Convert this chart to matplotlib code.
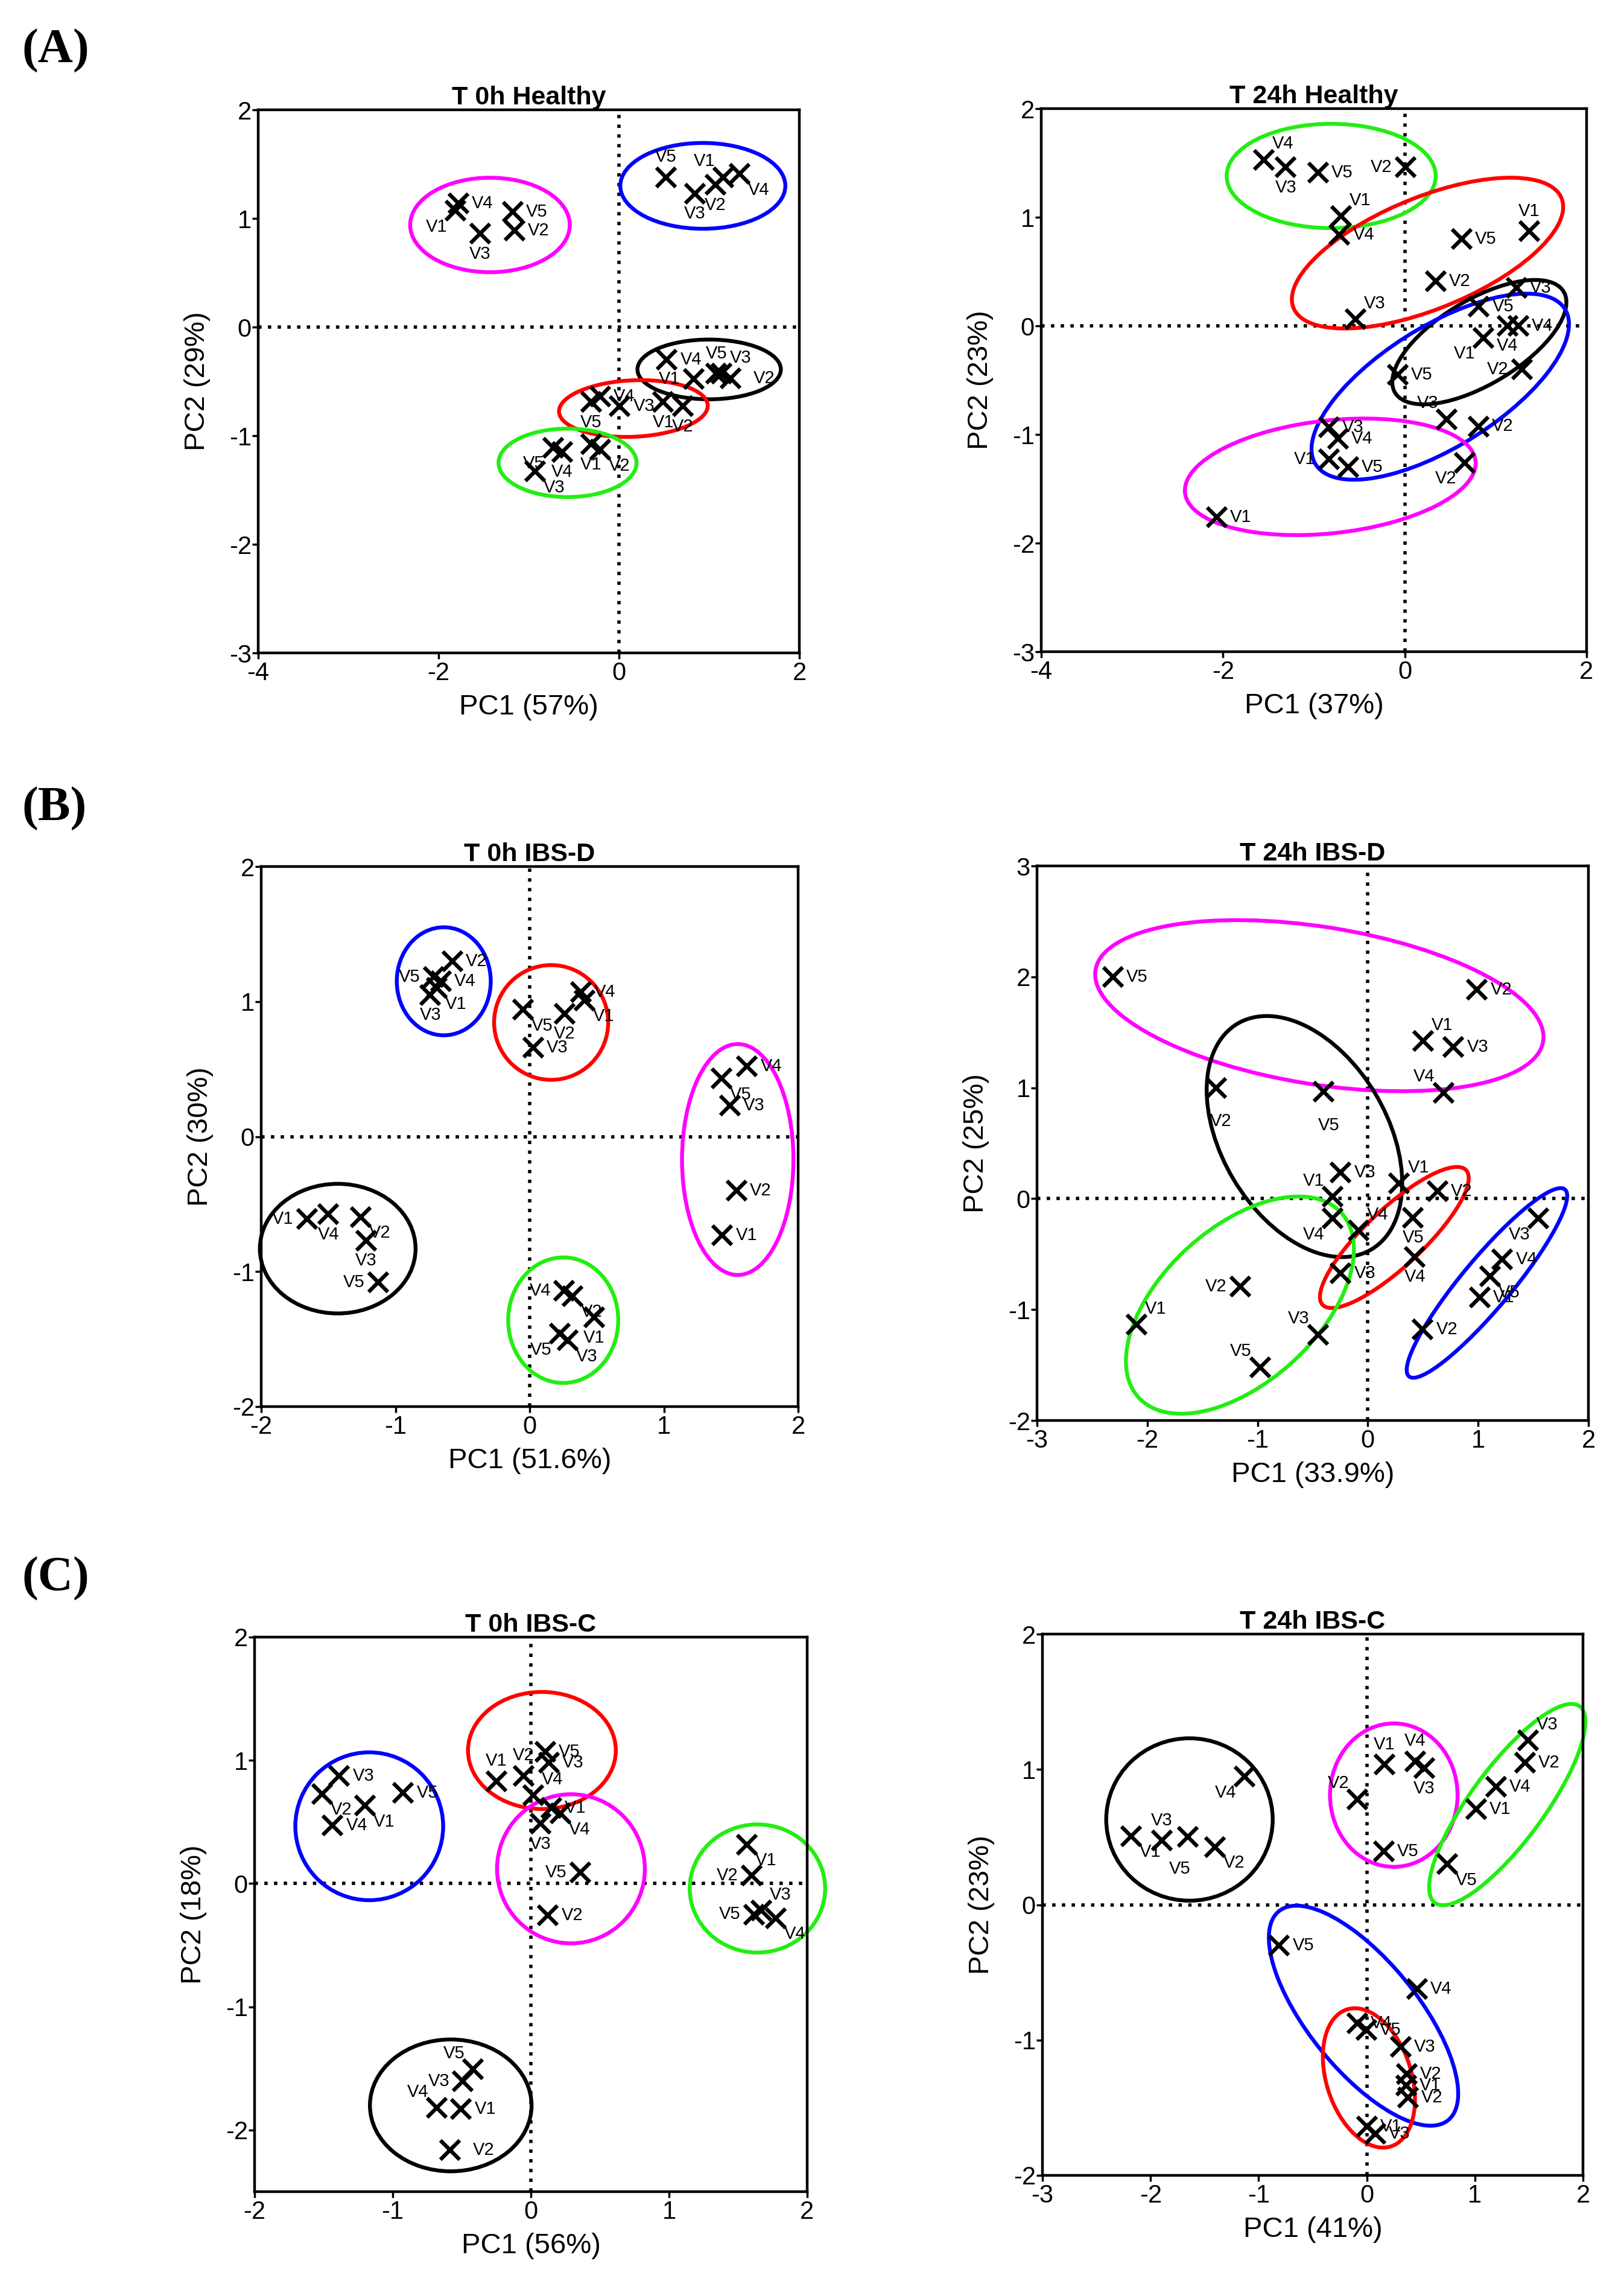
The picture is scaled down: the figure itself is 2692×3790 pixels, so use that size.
import matplotlib
matplotlib.use("Agg")
import matplotlib.pyplot as plt
from matplotlib.patches import Ellipse

plt.rcParams['font.family'] = ['Liberation Sans', 'DejaVu Sans']
plt.rcParams['axes.unicode_minus'] = False

W, H = 2692, 3790
DPI = 100

# ---------------- data ----------------
# (A) T 0h Healthy
a0_names = ['V4', 'V1', 'V3', 'V5', 'V2',
            'V5', 'V3', 'V2', 'V1', 'V4',
            'V4', 'V1', 'V5', 'V3', 'V2',
            'V5', 'V4', 'V3', 'V1', 'V2',
            'V5', 'V4', 'V1', 'V2', 'V3']
a0_pc1 = [-1.78, -1.81, -1.54, -1.18, -1.16,
          0.52, 0.84, 1.07, 1.16, 1.34,
          0.53, 0.83, 1.08, 1.14, 1.24,
          -0.31, -0.21, 0.01, 0.49, 0.71,
          -0.73, -0.63, -0.31, -0.21, -0.93]
a0_pc2 = [1.14, 1.07, 0.86, 1.06, 0.89,
          1.38, 1.23, 1.31, 1.38, 1.41,
          -0.30, -0.48, -0.43, -0.43, -0.47,
          -0.69, -0.64, -0.73, -0.69, -0.73,
          -1.11, -1.15, -1.08, -1.13, -1.33]
a0_side = ['r', 'bl', 'b', 'r', 'r',
           't', 'b', 'b', 'tl', 'br',
           'r', 'l', 't', 'tr', 'rr',
           'b', 'r', 'r', 'b', 'b',
           'bl', 'b', 'b', 'br', 'br']
a0_rings = [(-1.43, 0.94, 1.77, 0.87, 0, 'magenta'),
            (0.93, 1.30, 1.83, 0.79, 0, 'blue'),
            (1.00, -0.39, 1.59, 0.55, 0, 'black'),
            (0.16, -0.75, 1.65, 0.52, 2, 'red'),
            (-0.57, -1.25, 1.53, 0.63, 0, 'green')]

# (A) T 24h Healthy
a24_names = ['V4', 'V3', 'V5', 'V2', 'V1',
             'V1', 'V5', 'V2', 'V3', 'V4',
             'V3', 'V5', 'V4', 'V1', 'V2',
             'V4', 'V5', 'V3', 'V2', 'V1',
             'V1', 'V2', 'V3', 'V4', 'V5']
a24_pc1 = [-1.55, -1.31, -0.955, 0.01, -0.70,
           1.37, 0.625, 0.34, -0.54, -0.72,
           1.23, 0.815, 1.13, 0.865, 1.29,
           1.25, -0.08, 0.46, 0.81, -0.835,
           -2.07, 0.66, -0.835, -0.736, -0.625]
a24_pc2 = [1.53, 1.46, 1.41, 1.46, 1.01,
           0.87, 0.80, 0.41, 0.06, 0.84,
           0.35, 0.18, 0.0, -0.11, -0.40,
           0.0, -0.45, -0.86, -0.925, -1.23,
           -1.76, -1.26, -0.935, -1.037, -1.30]
a24_side = ['tr', 'b', 'r', 'l', 'tr',
            't', 'r', 'r', 'tr', 'r',
            'r', 'r', 'b', 'bl', 'l',
            'r', 'r', 'tl', 'r', 'l',
            'r', 'bl', 'r', 'r', 'r']
a24_rings = [(-0.81, 1.38, 2.30, 0.96, 0, 'green'),
             (0.25, 0.67, 3.12, 1.05, 18, 'red'),
             (0.82, -0.15, 2.08, 0.81, 25, 'black'),
             (0.39, -0.56, 3.10, 1.16, 26, 'blue'),
             (-0.82, -1.39, 3.21, 1.04, 5, 'magenta')]

# (B) T 0h IBS-D
b0_names = ['V2', 'V4', 'V5', 'V1', 'V3',
            'V4', 'V1', 'V2', 'V5', 'V3',
            'V4', 'V5', 'V3', 'V2', 'V1',
            'V1', 'V4', 'V2', 'V3', 'V5',
            'V4', 'V2', 'V1', 'V5', 'V3']
b0_pc1 = [-0.575, -0.66, -0.715, -0.69, -0.74,
          0.38, 0.41, 0.26, -0.05, 0.025,
          1.62, 1.43, 1.49, 1.54, 1.435,
          -1.66, -1.50, -1.258, -1.22, -1.13,
          0.258, 0.32, 0.48, 0.225, 0.285]
b0_pc2 = [1.30, 1.15, 1.18, 1.10, 1.05,
          1.07, 1.01, 0.91, 0.94, 0.66,
          0.52, 0.43, 0.23, -0.40, -0.73,
          -0.61, -0.576, -0.595, -0.77, -1.08,
          -1.14, -1.18, -1.34, -1.46, -1.51]
b0_side = ['r', 'r', 'l', 'br', 'b',
           'r', 'br', 'b', 'br', 'r',
           'r', 'br', 'r', 'r', 'r',
           'l', 'b', 'br', 'b', 'l',
           'l', 'br', 'b', 'bl', 'br']
b0_rings = [(-0.64, 1.15, 0.70, 0.80, 0, 'blue'),
            (0.16, 0.845, 0.85, 0.85, 0, 'red'),
            (1.55, -0.17, 0.83, 1.71, 0, 'magenta'),
            (-1.43, -0.83, 1.16, 0.96, 0, 'black'),
            (0.25, -1.36, 0.82, 0.93, 0, 'green')]

# (B) T 24h IBS-D
b24_names = ['V5', 'V2', 'V1', 'V3', 'V4',
             'V2', 'V5', 'V3', 'V1', 'V4',
             'V1', 'V2', 'V5', 'V4', 'V3',
             'V1', 'V2', 'V3', 'V5', 'V4',
             'V3', 'V4', 'V5', 'V1', 'V2']
b24_pc1 = [-2.31, 0.99, 0.50, 0.777, 0.685,
           -1.377, -0.40, -0.246, -0.32, -0.32,
           0.285, 0.63, 0.41, 0.426, -0.246,
           -2.098, -1.157, -0.452, -0.977, -0.082,
           1.548, 1.22, 1.11, 1.013, 0.498]
b24_pc2 = [2.0, 1.886, 1.42, 1.366, 0.957,
           1.0, 0.964, 0.235, 0.016, -0.18,
           0.137, 0.065, -0.17, -0.523, -0.67,
           -1.137, -0.79, -1.225, -1.52, -0.288,
           -0.18, -0.55, -0.70, -0.89, -1.176]
b24_side = ['r', 'r', 'tr', 'r', 'tl',
            'bb', 'bb', 'r', 'tl', 'bl',
            'tr', 'r', 'b', 'b', 'r',
            'tr', 'l', 'tl', 'tl', 'tr',
            'bl', 'r', 'br', 'r', 'r']
b24_rings = [(-0.44, 1.74, 4.11, 1.42, -9, 'magenta'),
             (-0.575, 0.56, 2.37, 1.50, 121, 'black'),
             (0.24, -0.35, 1.78, 0.52, 43, 'red'),
             (-1.16, -0.96, 2.48, 1.40, 42, 'green'),
             (1.08, -0.76, 2.20, 0.45, 50, 'blue')]

# (C) T 0h IBS-C
c0_names = ['V5', 'V3', 'V1', 'V2', 'V4',
            'V1', 'V4', 'V3', 'V5', 'V2',
            'V3', 'V2', 'V1', 'V5', 'V4',
            'V1', 'V2', 'V5', 'V3', 'V4',
            'V5', 'V3', 'V4', 'V1', 'V2']
c0_pc1 = [0.105, 0.131, -0.251, -0.052, 0.018,
          0.149, 0.215, 0.07, 0.359, 0.123,
          -1.387, -1.513, -1.199, -0.924, -1.435,
          1.563, 1.597, 1.615, 1.668, 1.772,
          -0.419, -0.492, -0.681, -0.505, -0.584]
c0_pc2 = [1.068, 0.98, 0.832, 0.876, 0.715,
          0.612, 0.568, 0.485, 0.091, -0.256,
          0.876, 0.729, 0.632, 0.738, 0.47,
          0.318, 0.068, -0.25, -0.22, -0.28,
          -1.506, -1.603, -1.82, -1.829, -2.16]
c0_side = ['r', 'r', 't', 't', 'tr',
           'r', 'br', 'b', 'l', 'r',
           'r', 'br', 'br', 'r', 'r',
           'br', 'l', 'l', 'tr', 'br',
           'tl', 'l', 'tl', 'r', 'rr']
c0_rings = [(0.08, 1.08, 1.07, 0.95, 0, 'red'),
            (0.29, 0.12, 1.07, 1.21, 0, 'magenta'),
            (-1.17, 0.465, 1.07, 1.20, 0, 'blue'),
            (1.64, -0.04, 0.98, 1.04, 0, 'green'),
            (-0.58, -1.80, 1.17, 1.07, 0, 'black')]

# (C) T 24h IBS-C
c24_names = ['V4', 'V1', 'V3', 'V5', 'V2',
             'V1', 'V4', 'V3', 'V2', 'V5',
             'V3', 'V2', 'V4', 'V1', 'V5',
             'V5', 'V4', 'V1', 'V2', 'V3',
             'V4', 'V5', 'V3', 'V2', 'V1']
c24_pc1 = [-1.13, -2.177, -1.897, -1.653, -1.403,
           0.163, 0.447, 0.53, -0.087, 0.157,
           1.49, 1.463, 1.197, 1.013, 0.747,
           -0.81, 0.463, 0.003, 0.38, 0.313,
           -0.087, -0.003, 0.08, 0.37, 0.363]
c24_pc2 = [0.947, 0.508, 0.473, 0.5, 0.428,
           1.035, 1.061, 1.008, 0.78, 0.393,
           1.214, 1.048, 0.874, 0.706, 0.3,
           -0.302, -0.623, -1.639, -1.425, -1.051,
           -0.877, -0.925, -1.693, -1.251, -1.337]
c24_side = ['bl', 'br', 't', 'bbl', 'br',
            't', 't', 'b', 'tl', 'r',
            'tr', 'r', 'r', 'r', 'br',
            'r', 'r', 'r', 'r', 'r',
            'r', 'r', 'r', 'r', 'r']
c24_rings = [(-1.64, 0.63, 1.54, 1.20, 0, 'black'),
             (0.25, 0.81, 1.18, 1.06, 0, 'magenta'),
             (1.30, 0.74, 1.98, 0.62, 46, 'green'),
             (-0.03, -0.82, 2.21, 0.91, -42, 'blue'),
             (0.02, -1.28, 1.10, 0.76, 119, 'red')]

RING_COLOURS = {'magenta': '#ff00ff', 'blue': '#0000ff', 'black': '#000000',
                'red': '#ff0000', 'green': '#22ee11'}

# label placement relative to the cross: (dx, dy) in points, ha, va
SIDES = {
    'r': (16, 0, 'left', 'center'),
    'rr': (27, 0, 'left', 'center'),
    'l': (-16, 0, 'right', 'center'),
    't': (0, 14, 'center', 'bottom'),
    'b': (0, -14, 'center', 'top'),
    'bb': (6, -30, 'center', 'top'),
    'bbl': (-10, -28, 'center', 'top'),
    'tr': (10, 9, 'left', 'bottom'),
    'br': (10, -9, 'left', 'top'),
    'tl': (-10, 9, 'right', 'bottom'),
    'bl': (-10, -9, 'right', 'top'),
}

panels = [
    dict(box=(428, 182, 1325, 1082), xlim=(-4, 2), ylim=(-3, 2),
         xticks=[-4, -2, 0, 2], yticks=[-3, -2, -1, 0, 1, 2],
         title='T 0h Healthy', xlabel='PC1 (57%)', ylabel='PC2 (29%)',
         names=a0_names, pc1=a0_pc1, pc2=a0_pc2, side=a0_side, rings=a0_rings),
    dict(box=(1726, 180, 2630, 1080), xlim=(-4, 2), ylim=(-3, 2),
         xticks=[-4, -2, 0, 2], yticks=[-3, -2, -1, 0, 1, 2],
         title='T 24h Healthy', xlabel='PC1 (37%)', ylabel='PC2 (23%)',
         names=a24_names, pc1=a24_pc1, pc2=a24_pc2, side=a24_side, rings=a24_rings),
    dict(box=(433, 1436, 1323, 2331), xlim=(-2, 2), ylim=(-2, 2),
         xticks=[-2, -1, 0, 1, 2], yticks=[-2, -1, 0, 1, 2],
         title='T 0h IBS-D', xlabel='PC1 (51.6%)', ylabel='PC2 (30%)',
         names=b0_names, pc1=b0_pc1, pc2=b0_pc2, side=b0_side, rings=b0_rings),
    dict(box=(1719, 1435, 2633, 2354), xlim=(-3, 2), ylim=(-2, 3),
         xticks=[-3, -2, -1, 0, 1, 2], yticks=[-2, -1, 0, 1, 2, 3],
         title='T 24h IBS-D', xlabel='PC1 (33.9%)', ylabel='PC2 (25%)',
         names=b24_names, pc1=b24_pc1, pc2=b24_pc2, side=b24_side, rings=b24_rings),
    dict(box=(422, 2713, 1338, 3632), xlim=(-2, 2), ylim=(-2.5, 2),
         xticks=[-2, -1, 0, 1, 2], yticks=[-2, -1, 0, 1, 2],
         title='T 0h IBS-C', xlabel='PC1 (56%)', ylabel='PC2 (18%)',
         names=c0_names, pc1=c0_pc1, pc2=c0_pc2, side=c0_side, rings=c0_rings),
    dict(box=(1728, 2708, 2624, 3605), xlim=(-3, 2), ylim=(-2, 2),
         xticks=[-3, -2, -1, 0, 1, 2], yticks=[-2, -1, 0, 1, 2],
         title='T 24h IBS-C', xlabel='PC1 (41%)', ylabel='PC2 (23%)',
         names=c24_names, pc1=c24_pc1, pc2=c24_pc2, side=c24_side, rings=c24_rings),
]

panel_letters = [('(A)', 84), ('(B)', 1340), ('(C)', 2616)]


def px_box(l, t, r, b):
    # pixel box (from top-left) -> figure fraction rect
    return [l / W, 1 - b / H, (r - l) / W, (b - t) / H]


def draw_panel(ax, p):
    dots = (0, (1, 1.9))
    ax.axhline(0, color='k', lw=4, ls=dots, zorder=1)
    ax.axvline(0, color='k', lw=4, ls=dots, zorder=1)

    for cx, cy, w, h, ang, col in p['rings']:
        ax.add_patch(Ellipse((cx, cy), w, h, angle=ang, fill=False,
                             ec=RING_COLOURS[col], lw=4.6, zorder=2, clip_on=False))

    ax.plot(p['pc1'], p['pc2'], ls='none', marker='x', ms=23, mew=4.6,
            color='k', zorder=3)

    for name, x, y, s in zip(p['names'], p['pc1'], p['pc2'], p['side']):
        dx, dy, ha, va = SIDES[s]
        ax.annotate(name, (x, y), xytext=(dx, dy), textcoords='offset points',
                    ha=ha, va=va, fontsize=21, zorder=4)

    ax.set_xlim(*p['xlim'])
    ax.set_ylim(*p['ylim'])
    ax.set_xticks(p['xticks'])
    ax.set_yticks(p['yticks'])
    ax.set_title(p['title'], fontsize=31, fontweight='bold', pad=6)
    ax.set_xlabel(p['xlabel'], fontsize=34, labelpad=10)
    ax.set_ylabel(p['ylabel'], fontsize=34, labelpad=22)
    ax.tick_params(axis='both', direction='out', length=7, width=2.5, labelsize=30)
    ax.tick_params(axis='x', pad=3)
    ax.tick_params(axis='y', pad=1)
    for sp in ax.spines.values():
        sp.set_linewidth(3.2)


fig = plt.figure(figsize=(W / DPI, H / DPI), dpi=DPI)

for p in panels:
    ax = fig.add_axes(px_box(*p['box']))
    draw_panel(ax, p)

for letter, yc in panel_letters:
    fig.text(36 / W, 1 - yc / H, letter, fontsize=58, fontweight='bold',
             family=['Liberation Serif', 'DejaVu Serif'], ha='left', va='center')

fig.savefig('out.png', dpi=DPI)
